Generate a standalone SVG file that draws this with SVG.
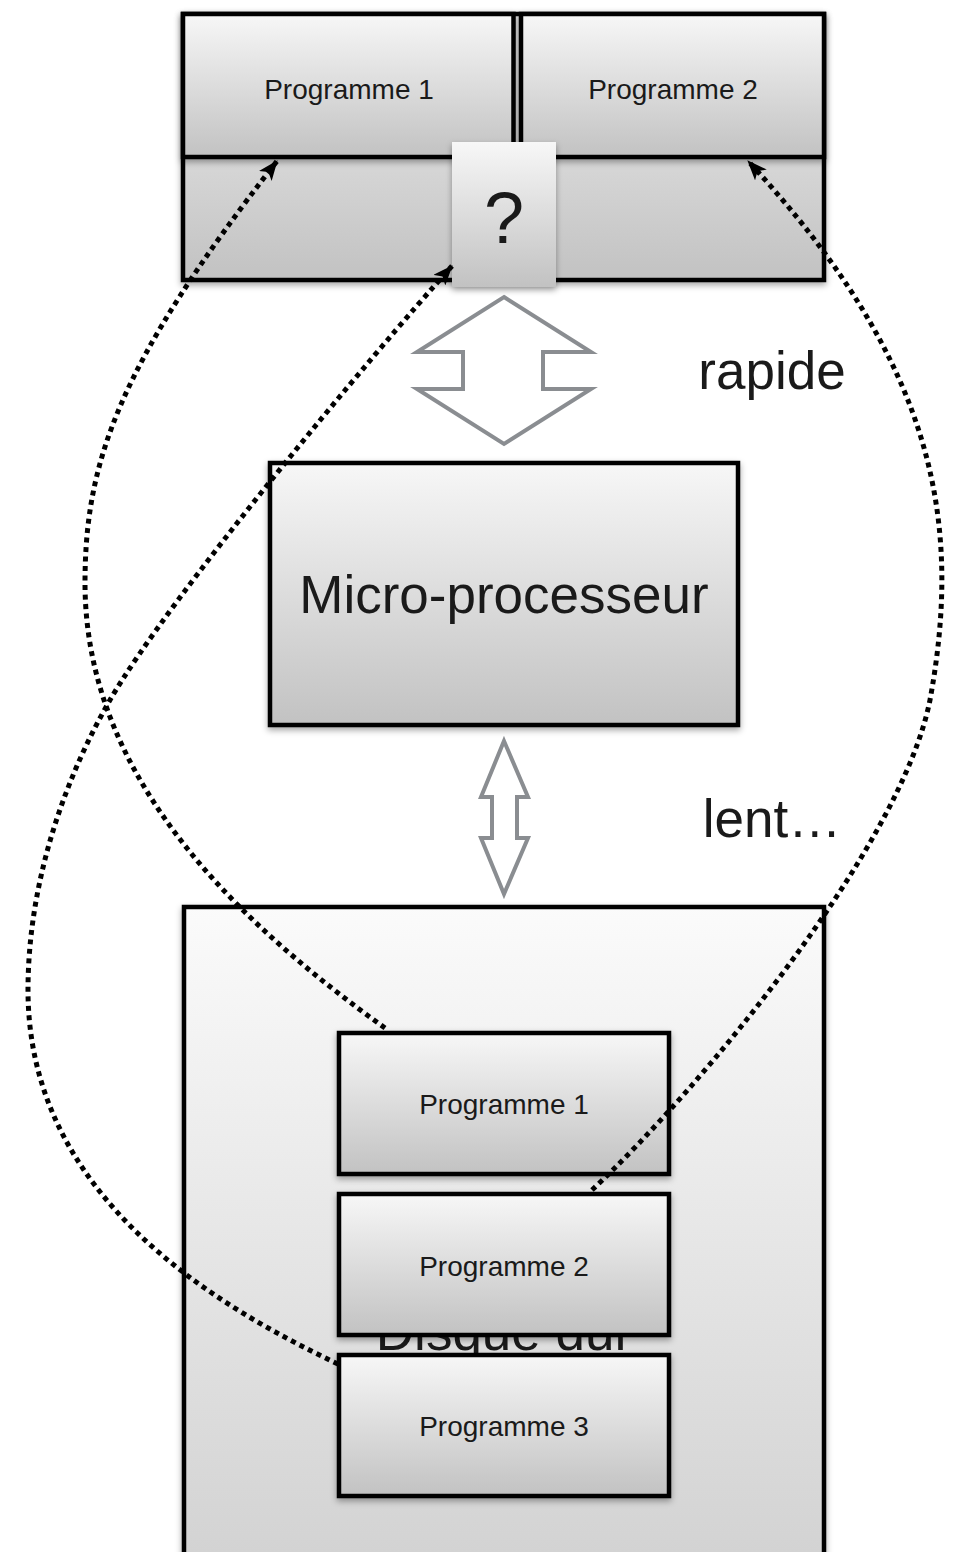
<svg xmlns="http://www.w3.org/2000/svg" width="955" height="1552" viewBox="0 0 955 1552">
  <defs>
    <linearGradient id="boxFill" x1="0" y1="0" x2="0" y2="1">
      <stop offset="0" stop-color="#f7f7f7"/>
      <stop offset="1" stop-color="#c2c2c2"/>
    </linearGradient>
    <linearGradient id="memFill" x1="0" y1="0" x2="0" y2="1">
      <stop offset="0" stop-color="#f0f0f0"/>
      <stop offset="1" stop-color="#c2c2c2"/>
    </linearGradient>
    <linearGradient id="diskFill" gradientUnits="userSpaceOnUse" x1="0" y1="905" x2="0" y2="1552">
      <stop offset="0" stop-color="#fbfbfb"/>
      <stop offset="1" stop-color="#d3d3d3"/>
    </linearGradient>
    <filter id="shadow" x="-10%" y="-10%" width="120%" height="130%">
      <feDropShadow dx="0" dy="3" stdDeviation="3" flood-color="#000" flood-opacity="0.35"/>
    </filter>
    <marker id="head" markerUnits="userSpaceOnUse" viewBox="0 0 20 16" markerWidth="20" markerHeight="16" refX="19" refY="8" orient="auto">
      <path d="M0,0 L20,8 L0,16 L5,8 z" fill="#000"/>
    </marker>
    <style>
      .box { stroke: #000; stroke-width: 4.5; filter: url(#shadow); }
      .label { font-family: "Liberation Sans", Arial, sans-serif; fill: #1a1a1a; text-anchor: middle; }
      .small { font-size: 28px; }
      .big { font-size: 53px; }
      .bus { fill: #fff; stroke: #8a8d91; stroke-width: 4; stroke-linejoin: miter; }
      .link { fill: none; stroke: #000; stroke-width: 5; stroke-dasharray: 5 4.5; marker-end: url(#head); }
    </style>
  </defs>

  <!-- Hard disk with its stored programs -->
  <g id="disk">
    <rect class="box" x="184" y="907" width="640" height="700" fill="url(#diskFill)"/>
    <text class="label big" x="504" y="1350">Disque dur</text>
  </g>
  <g id="disk-prog1">
    <rect class="box" x="339" y="1033" width="330" height="141" fill="url(#boxFill)"/>
    <text class="label small" x="504" y="1114">Programme 1</text>
  </g>
  <g id="disk-prog2">
    <rect class="box" x="339" y="1194" width="330" height="141" fill="url(#boxFill)"/>
    <text class="label small" x="504" y="1276">Programme 2</text>
  </g>
  <g id="disk-prog3">
    <rect class="box" x="339" y="1355" width="330" height="141" fill="url(#boxFill)"/>
    <text class="label small" x="504" y="1436">Programme 3</text>
  </g>

  <!-- CPU -->
  <g id="cpu">
    <rect class="box" x="270" y="463" width="468" height="262" fill="url(#boxFill)"/>
    <text class="label big" x="504" y="613">Micro-processeur</text>
  </g>

  <!-- Main memory with two loaded programs -->
  <g id="memory">
    <rect class="box" x="183" y="14" width="641" height="266" fill="url(#memFill)"/>
  </g>
  <g id="mem-prog1">
    <rect class="box" x="183" y="14" width="330.5" height="143" fill="url(#boxFill)"/>
    <text class="label small" x="349" y="99">Programme 1</text>
  </g>
  <g id="mem-prog2">
    <rect class="box" x="521" y="14" width="303" height="143" fill="url(#boxFill)"/>
    <text class="label small" x="673" y="99">Programme 2</text>
  </g>
  <g id="mem-free">
    <rect x="452" y="142" width="104" height="145" fill="url(#boxFill)" filter="url(#shadow)"/>
    <text class="label" x="504" y="243" font-size="72">?</text>
  </g>

  <!-- Bus arrows -->
  <g id="bus-fast">
    <polygon class="bus" points="504,297 591,352 543,352 543,389 591,389 504,444 417,389 463,389 463,352 417,352"/>
    <text class="label big" x="772" y="389">rapide</text>
  </g>
  <g id="bus-slow">
    <polygon class="bus" points="504,741 528,797 517,797 517,838 528,838 504,894 481,838 492,838 492,797 481,797"/>
    <text class="label big" x="772" y="837">lent…</text>
  </g>

  <!-- Program loading paths -->
  <g id="connectors">
    <path class="link" d="M385,1028 C246,928 85,783 85,583 C85,463 118,365 277,161"/>
    <path class="link" d="M338,1364 C203,1300 28,1190 28,990 C28,890 60,787 110,700 C170,596 372,355 452,266"/>
    <path class="link" d="M592,1190 C701,1088 901,847 930,700 C962,525 938,366 748,161"/>
  </g>
</svg>
